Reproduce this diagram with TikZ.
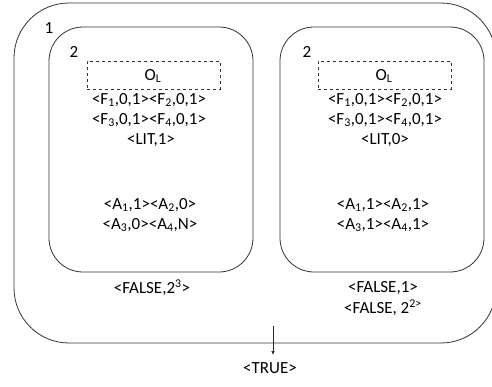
\documentclass[tikz,border=0pt]{standalone}
\usepackage{fontspec}
\setmainfont{Carlito}
\usetikzlibrary{arrows.meta}
\newcommand{\sbs}[1]{\textsubscript{#1}}
\newcommand{\sps}[1]{\textsuperscript{#1}}
\begin{document}
\begin{tikzpicture}[x=1pt,y=-1pt,
  frame/.style={draw=black!80,line width=0.8pt},
  dashbox/.style={draw=black!80,dashed,line width=0.7pt},
  lbl/.style={font=\fontsize{17}{19}\selectfont,inner sep=0pt,text=black},
  arr/.style={draw=black!85,line width=0.6pt,-{Latex[length=4pt,width=3.5pt]}}]
\useasboundingbox (0,0) rectangle (492,386);
\begin{scope}
\clip (0,0) rectangle (492,386);
\draw[frame,rounded corners=55pt] (14,3) rectangle (496,343);
\end{scope}
\draw[frame,rounded corners=34pt] (49,27) rectangle (253,272);
\draw[frame,rounded corners=34pt] (280,27) rectangle (484,272);
\node[lbl] (one) at (49,28) {1};
\node[lbl] (twoL) at (74,52) {2};
\node[lbl] (twoR) at (307,52) {2};
% left inner
\node[dashbox,minimum width=133pt,minimum height=28pt,inner sep=0pt] (olL) at (153.5,75) {};
\node[lbl] (olLt) at (153,76) {O\sbs{L}};
\node[lbl] (f12L) at (149,100) {<F\sbs{1},0,1><F\sbs{2},0,1>};
\node[lbl] (f34L) at (149,120) {<F\sbs{3},0,1><F\sbs{4},0,1>};
\node[lbl] (litL) at (151,140) {<LIT,1>};
\node[lbl] (a12L) at (150,205) {<A\sbs{1},1><A\sbs{2},0>};
\node[lbl] (a34L) at (150,225) {<A\sbs{3},0><A\sbs{4},N>};
\node[lbl] (falseL) at (152,288) {<FALSE,2\sps{3}>};
% right inner
\node[dashbox,minimum width=133pt,minimum height=28pt,inner sep=0pt] (olR) at (384.5,75) {};
\node[lbl] (olRt) at (384,76) {O\sbs{L}};
\node[lbl] (f12R) at (385,100) {<F\sbs{1},0,1><F\sbs{2},0,1>};
\node[lbl] (f34R) at (385,120) {<F\sbs{3},0,1><F\sbs{4},0,1>};
\node[lbl] (litR) at (385,140) {<LIT,0>};
\node[lbl] (a12R) at (383,205) {<A\sbs{1},1><A\sbs{2},1>};
\node[lbl] (a34R) at (383,225) {<A\sbs{3},1><A\sbs{4},1>};
\node[lbl] (false1R) at (383,288) {<FALSE,1>};
\node[lbl] (false2R) at (383,308) {<FALSE, 2\sps{2>}};
% arrow
\coordinate (astart) at (273,326);
\node[lbl] (true) at (270,368) {<TRUE>};
\draw[arr] (astart) -- (astart |- 0,355);
\end{tikzpicture}
\end{document}
